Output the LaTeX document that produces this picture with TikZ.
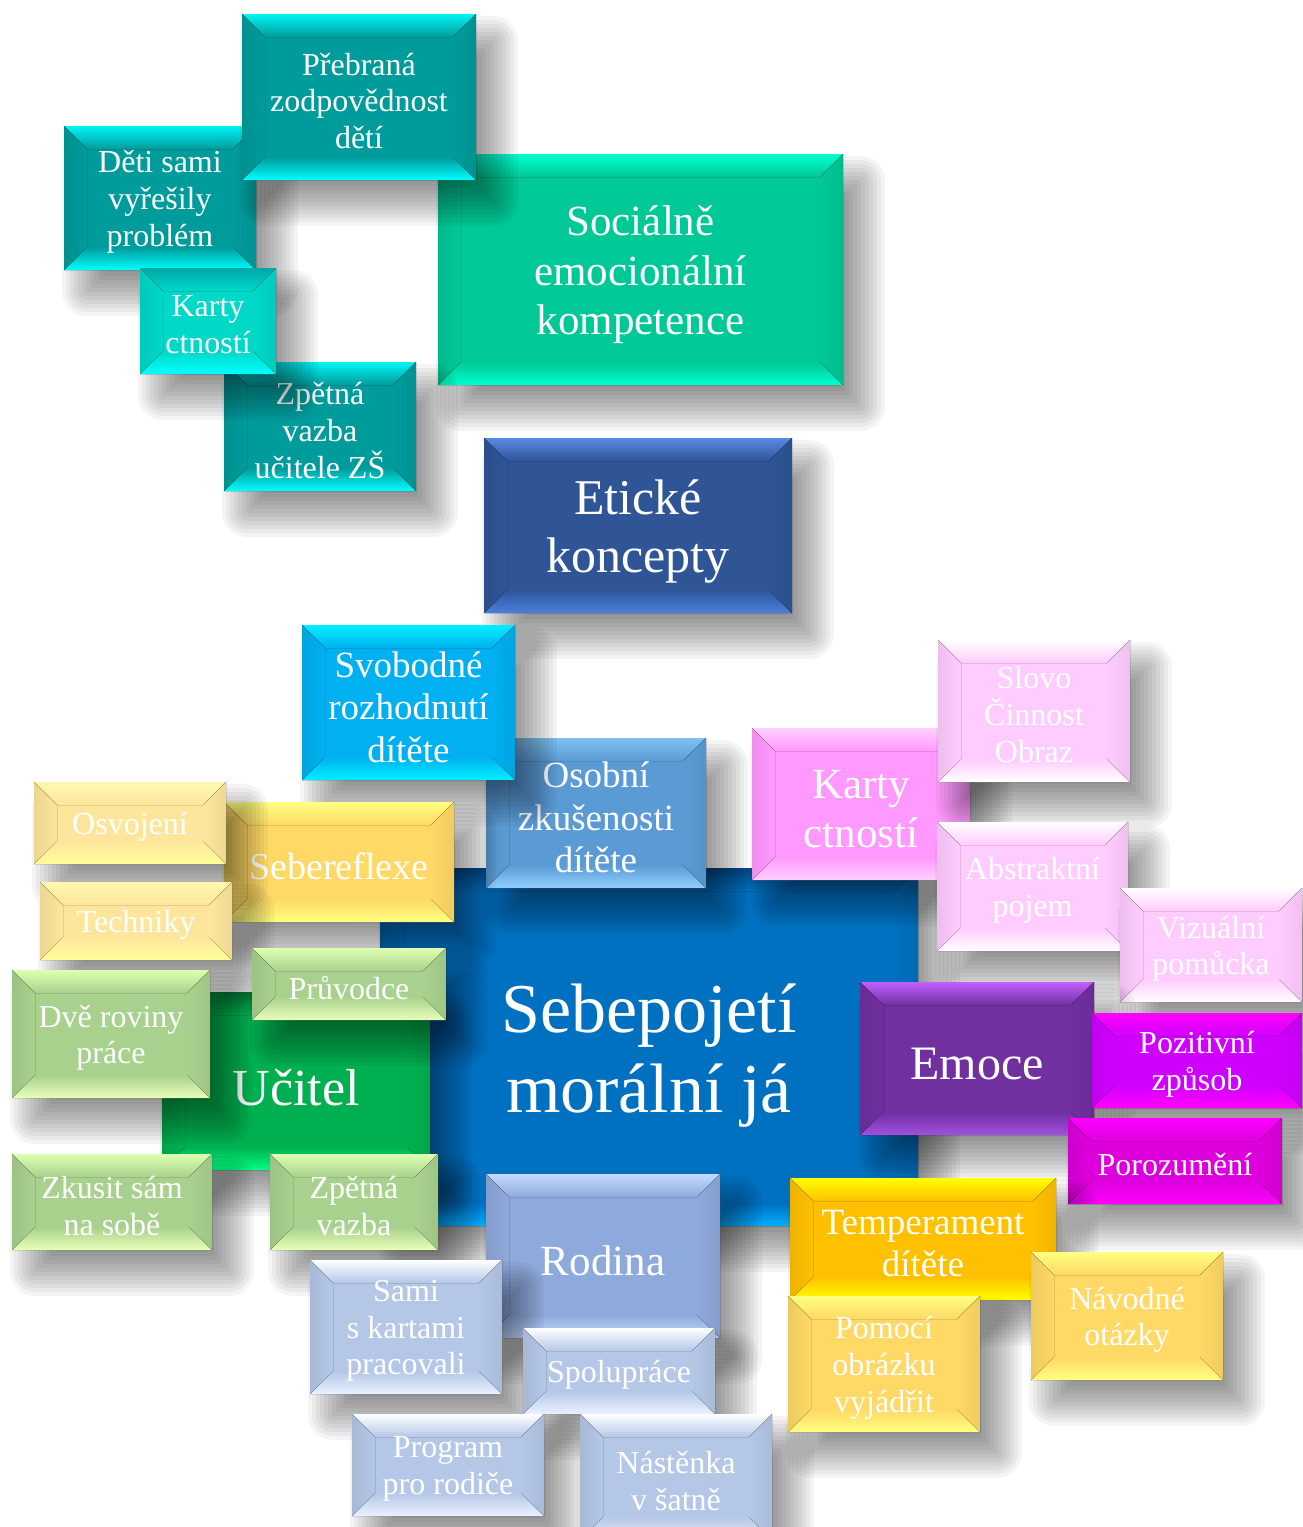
\documentclass[tikz,border=0pt]{standalone}
\usepackage{fontspec}
\setmainfont{Liberation Serif}
% colour schemes: base, top bevel, bottom bevel
\definecolor{cTbase}{HTML}{009B9B}\definecolor{cTtop}{HTML}{00F5F5}\definecolor{cTbot}{HTML}{00FFFF}
\definecolor{cKbase}{HTML}{00D8C8}\definecolor{cKtop}{HTML}{00A8A8}\definecolor{cKbot}{HTML}{00FFFF}
\definecolor{cSbase}{HTML}{00C896}\definecolor{cStop}{HTML}{00FFD0}\definecolor{cSbot}{HTML}{00FFD0}
\definecolor{cEbase}{HTML}{2F5597}\definecolor{cEtop}{HTML}{5A8AE6}\definecolor{cEbot}{HTML}{4A7FE0}
\definecolor{cVbase}{HTML}{00B0F0}\definecolor{cVtop}{HTML}{00F0FF}\definecolor{cVbot}{HTML}{00F0FF}
\definecolor{cObase}{HTML}{5B9BD5}\definecolor{cOtop}{HTML}{80C0F0}\definecolor{cObot}{HTML}{90D0FF}
\definecolor{cMbase}{HTML}{0070C0}\definecolor{cMtop}{HTML}{00467F}\definecolor{cMbot}{HTML}{00AEFF}
\definecolor{cPbase}{HTML}{FF99FF}\definecolor{cPtop}{HTML}{FFD0FF}\definecolor{cPbot}{HTML}{FFD0FF}
\definecolor{cLbase}{HTML}{FFCCFF}\definecolor{cLtop}{HTML}{FFFFFF}\definecolor{cLbot}{HTML}{FFFFFF}
\definecolor{cRbase}{HTML}{7030A0}\definecolor{cRtop}{HTML}{C060FF}\definecolor{cRbot}{HTML}{A050E0}
\definecolor{cZbase}{HTML}{D000FF}\definecolor{cZtop}{HTML}{FF00FF}\definecolor{cZbot}{HTML}{FF00FF}
\definecolor{cQbase}{HTML}{DD00DD}\definecolor{cQtop}{HTML}{FF00FF}\definecolor{cQbot}{HTML}{FF00FF}
\definecolor{cYbase}{HTML}{FFC000}\definecolor{cYtop}{HTML}{FFFF00}\definecolor{cYbot}{HTML}{FFFF00}
\definecolor{cGbase}{HTML}{FFD966}\definecolor{cGtop}{HTML}{FFFF80}\definecolor{cGbot}{HTML}{FFFF80}
\definecolor{cWbase}{HTML}{FDE69C}\definecolor{cWtop}{HTML}{FFF8B0}\definecolor{cWbot}{HTML}{FFFF99}
\definecolor{cBbase}{HTML}{8EA9DB}\definecolor{cBtop}{HTML}{C5DAFF}\definecolor{cBbot}{HTML}{C5DAFF}
\definecolor{cCbase}{HTML}{B4C7E7}\definecolor{cCtop}{HTML}{FFFFFF}\definecolor{cCbot}{HTML}{EAF2FF}
\definecolor{cUbase}{HTML}{00B050}\definecolor{cUtop}{HTML}{006E30}\definecolor{cUbot}{HTML}{00FF80}
\definecolor{cNbase}{HTML}{A9D18E}\definecolor{cNtop}{HTML}{DDFFB0}\definecolor{cNbot}{HTML}{E8FFB8}
\tikzset{
  shadowlayer/.style={fill=black,opacity=0.045},
  boxtext/.style={shape=rectangle,inner sep=0pt,text=white,align=center}
}
\newcommand\bevd{23}
% soft shadow: stacked translucent rounded rectangles
\newcommand\softshadow[4]{%
  \foreach \k in {0,...,11}{%
    \pgfmathsetmacro\bevE{22-44*\k/11}%
    \pgfmathsetmacro\bevRC{max(\bevE,0)+3}%
    \fill[shadowlayer,rounded corners=\bevRC pt] (#1+20-\bevE,#2+24-\bevE) rectangle (#3+20+\bevE,#4+24+\bevE);
  }%
}
% \bev[fontsize]{name}{x1}{y1}{x2}{y2}{scheme}{text}
\newcommand\bev[8][32]{%
  \pgfmathsetmacro\bevbls{1.15*#1}%
  \pgfmathsetmacro\bevw{#5-#3}%
  \pgfmathsetmacro\bevh{#6-#4}%
  \pgfmathsetmacro\bevys{-0.12*#1}%
  \softshadow{#3}{#4}{#5}{#6}%
  \fill[#7base] (#3,#4) rectangle (#5,#6);
  \fill[top color=#7top,bottom color=#7base] (#3,#4) -- (#5,#4) -- (#5-\bevd,#4+\bevd) -- (#3+\bevd,#4+\bevd) -- cycle;
  \fill[top color=#7base,bottom color=#7bot] (#3,#6) -- (#5,#6) -- (#5-\bevd,#6-\bevd) -- (#3+\bevd,#6-\bevd) -- cycle;
  \fill[left color=#7base!93!black,right color=#7base] (#3,#4) -- (#3+\bevd,#4+\bevd) -- (#3+\bevd,#6-\bevd) -- (#3,#6) -- cycle;
  \fill[left color=#7base,right color=#7base!94!black] (#5,#4) -- (#5-\bevd,#4+\bevd) -- (#5-\bevd,#6-\bevd) -- (#5,#6) -- cycle;
  \node[boxtext,font=\fontsize{#1}{\bevbls}\selectfont,minimum width=\bevw pt,minimum height=\bevh pt,yshift=\bevys pt] (#2) at ({(#3+#5)/2},{(#4+#6)/2}) {#8};
}
\begin{document}
\begin{tikzpicture}[x=1pt,y=-1pt]
\fill[white] (0,0) rectangle (1302,1527);
\useasboundingbox (0,0) rectangle (1302,1527);
\bev[43]{soc}{438}{154}{843}{385}{cS}{Sociálně\\emocionální\\kompetence}
\bev{deti}{64}{126}{256}{270}{cT}{Děti sami\\vyřešily\\problém}
\bev{zpzs}{224}{362}{416}{491}{cT}{Zpětná\\vazba\\učitele ZŠ}
\bev{kartys}{140}{268}{276}{374}{cK}{Karty\\ctností}
\bev{preb}{242}{14}{476}{180}{cT}{Přebraná\\zodpovědnost\\dětí}
\bev[50]{etic}{484}{438}{792}{613}{cE}{Etické\\koncepty}
\bev[70]{main}{380}{868}{918}{1226}{cM}{Sebepojetí\\morální já}
\bev[37]{osob}{486}{738}{706}{888}{cO}{Osobní\\zkušenosti\\dítěte}
\bev[37]{svob}{302}{625}{515}{780}{cV}{Svobodné\\rozhodnutí\\dítěte}
\bev[43]{kartyp}{752}{728}{970}{880}{cP}{Karty\\ctností}
\bev{slovo}{938}{640}{1130}{782}{cL}{Slovo\\Činnost\\Obraz}
\bev{abstr}{937}{822}{1128}{951}{cL}{Abstraktní\\pojem}
\bev{vizu}{1120}{888}{1302}{1002}{cL}{Vizuální\\pomůcka}
\bev[38]{seber}{224}{802}{454}{922}{cG}{Sebereflexe}
\bev{osvo}{34}{782}{226}{864}{cW}{Osvojení}
\bev{tech}{40}{882}{232}{960}{cW}{Techniky}
\bev[52]{ucit}{162}{992}{430}{1170}{cU}{Učitel}
\bev{pruv}{252}{948}{446}{1020}{cN}{Průvodce}
\bev{dve}{12}{970}{210}{1098}{cN}{Dvě roviny\\práce}
\bev{zkus}{12}{1154}{212}{1250}{cN}{Zkusit sám\\na sobě}
\bev{zpet}{270}{1154}{438}{1250}{cN}{Zpětná\\vazba}
\bev[43]{rodi}{486}{1174}{720}{1338}{cB}{Rodina}
\bev{sami}{310}{1260}{502}{1394}{cC}{Sami\\s kartami\\pracovali}
\bev{spol}{523}{1328}{715}{1414}{cC}{Spolupráce}
\bev{prog}{352}{1414}{544}{1516}{cC}{Program\\pro rodiče}
\bev{nast}{580}{1414}{772}{1540}{cC}{Nástěnka\\v šatně}
\bev[48]{emoc}{860}{982}{1094}{1135}{cR}{Emoce}
\bev{pozi}{1092}{1013}{1302}{1108}{cZ}{Pozitivní\\způsob}
\bev{poro}{1068}{1118}{1282}{1204}{cQ}{Porozumění}
\bev[37]{temp}{790}{1178}{1056}{1300}{cY}{Temperament\\dítěte}
\bev{pomo}{788}{1296}{980}{1432}{cG}{Pomocí\\obrázku\\vyjádřit}
\bev{navo}{1031}{1252}{1223}{1380}{cG}{Návodné\\otázky}
\end{tikzpicture}
\end{document}
